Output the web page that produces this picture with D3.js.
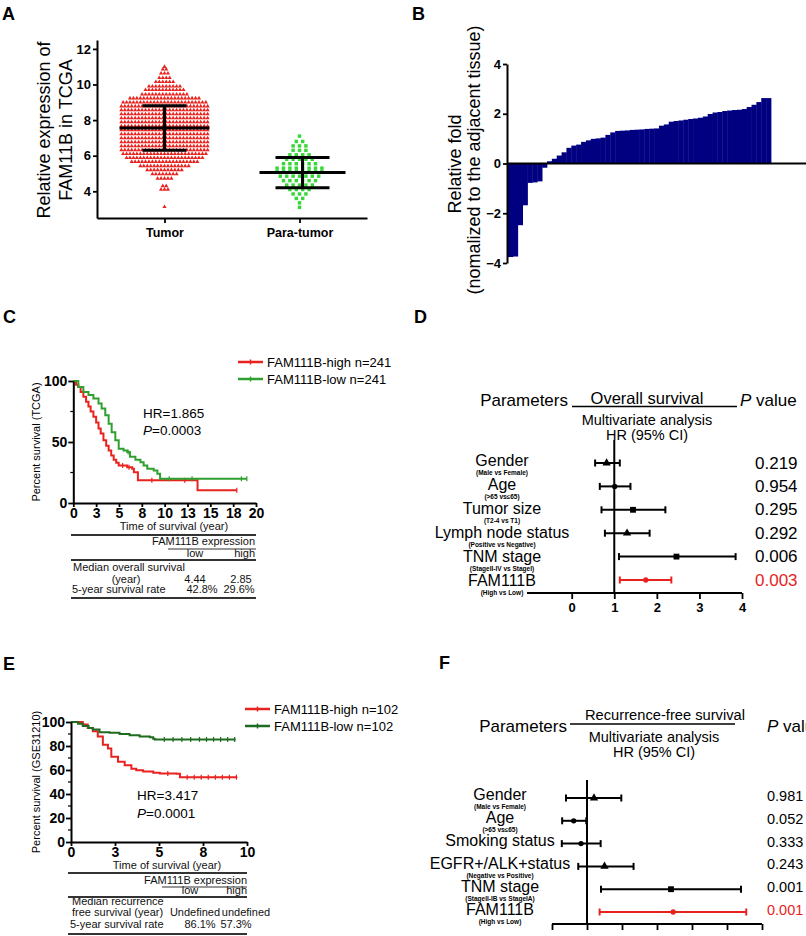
<!DOCTYPE html>
<html><head><meta charset="utf-8">
<script src="https://cdn.jsdelivr.net/npm/d3@7"></script>
<style>
html,body{margin:0;padding:0;background:#fff;}
svg{display:block;font-family:"Liberation Sans",Arial,sans-serif;}
</style></head>
<body>
<svg id="fig" width="806" height="936"></svg>
<script>
// ---------------- DATA ----------------
// Panel A: beeswarm rows [value, count]
const tumorRows = [[3.13,1],[4.1,3],[4.3,2],[4.72,5],[4.97,8],[5.2,11],[5.42,15],[5.66,20],[5.88,23],[6.1,25],[6.32,26],[6.54,26],[6.76,26],[6.99,26],[7.21,26],[7.44,26],[7.66,26],[7.89,26],[8.11,26],[8.34,26],[8.56,26],[8.78,26],[9.0,25],[9.23,21],[9.45,14],[9.7,12],[9.9,10],[10.15,6],[10.37,4],[10.63,3],[10.85,2],[11.0,1]];
const paraRows = [[7.1,1],[6.8,2],[6.55,3],[6.3,3],[6.05,4],[5.8,5],[5.55,6],[5.3,8],[5.1,8],[4.85,7],[4.6,6],[4.35,5],[4.1,4],[3.85,3],[3.6,2],[3.35,1],[3.1,1]];
const groupsA = ["Tumor","Para-tumor"];
const meanA = [7.55, 5.05];
const sdLowA = [6.3, 4.2];
const sdHighA = [8.8, 5.9];
const ticksA = [4,6,8,10,12];

// Panel B: sorted relative fold values
const foldB = [-3.76,-3.74,-2.48,-1.68,-0.78,-0.76,-0.72,-0.17,
 0.09,0.19,0.32,0.45,0.63,0.72,0.76,0.87,0.93,0.99,1.01,1.04,1.15,1.25,1.31,1.32,1.33,1.35,1.36,1.37,1.39,1.40,1.41,
 1.52,1.57,1.68,1.71,1.73,1.76,1.79,1.81,1.84,1.89,1.99,2.05,2.07,2.11,2.13,2.15,2.16,2.19,2.27,2.36,2.47,2.63,2.63];
const ticksB = [-4,-2,0,2,4];

// Panel C: Kaplan-Meier (TCGA) [years, percent]
const cHigh = [[0,100],[0.3,97],[0.55,95],[0.8,91],[1.1,87],[1.4,83],[1.66,79],[1.9,75],[2.2,70.6],[2.5,66],[2.76,61],[3.0,57],[3.3,51.4],[3.6,47],[3.87,43],[4.15,39],[4.42,35.4],[4.7,33],[4.97,30.8],[5.9,29.4],[6.45,28],[6.63,25.3],[7.07,18.6],[13.6,10.4],[17.9,10.4]];
const cLow = [[0,100],[0.55,95],[1.1,91],[1.66,88.5],[2.2,85.7],[2.76,81.6],[3.1,77.5],[3.5,72],[3.87,65],[4.2,58],[4.6,51.4],[4.97,44.5],[5.5,43],[5.9,41.8],[6.2,38],[6.8,35.4],[7.35,33.5],[7.7,30.8],[8.1,28],[8.8,26.6],[9.2,24],[9.5,19.8],[19.0,19.8]];
const cHighCensor = [5.4,6.1,8.6,12.2,17.9];
const cLowCensor = [6.0,10.5,13.0,18.4,19.0];
const cTicks = [0,2.5,5,7.5,10,12.5,15,17.5,20];
const cTickLabels = ["0","3","5","8","10","13","15","18","20"];
const cYTicks = [0,50,100];
const cLegend = ["FAM111B-high n=241","FAM111B-low n=241"];
const cStats = ["HR=1.865","=0.0003"];
const cTable = {median:["4.44","2.85"], rate:["42.8%","29.6%"]};

// Panel E: Kaplan-Meier (GSE31210)
const eHigh = [[0,100],[0.67,98],[0.95,95],[1.24,92.3],[1.52,88],[1.81,81],[2.1,78],[2.29,71],[2.67,66.8],[3.05,64],[3.43,61],[3.71,59.7],[4.1,58.8],[4.67,57.7],[5.05,57.1],[6.0,56.8],[6.19,54],[9.45,54]];
const eLow = [[0,100],[0.4,98.5],[0.67,96.6],[1.0,95],[1.24,93.75],[1.62,91.5],[2.19,91],[2.76,90],[3.33,88.9],[3.9,88],[4.48,87.2],[4.67,86],[4.76,85.5],[9.35,85.5]];
const eHighCensor = [5.5,6.6,7.0,7.4,7.8,8.2,8.6,9.0,9.4];
const eLowCensor = [5.3,5.8,6.3,6.8,7.3,7.7,8.1,8.5,8.9,9.3];
const eTicks = [0,2.5,5,7.5,10];
const eTickLabels = ["0","3","5","8","10"];
const eYTicks = [0,20,40,60,80,100];
const eLegend = ["FAM111B-high n=102","FAM111B-low n=102"];
const eStats = ["HR=3.417","=0.0001"];
const eTable = {median:["Undefined","undefined"], rate:["86.1%","57.3%"]};

// Panel D: forest plot, overall survival
const dParams = ["Gender","Age","Tumor size","Lymph node status","TNM stage","FAM111B"];
const dSub = ["(Male vs Female)","(>65 vs\u226465)","(T2-4 vs T1)","(Positive vs Negative)","(StageII-IV vs StageI)","(High vs Low)"];
const dHR = [0.82,1.01,1.44,1.30,2.46,1.74];
const dLow = [0.55,0.66,0.70,0.78,1.11,1.13];
const dHigh = [1.13,1.38,2.20,1.83,3.85,2.34];
const dP = ["0.219","0.954","0.295","0.292","0.006","0.003"];
const dTicks = [0,1,2,3,4];

// Panel F: forest plot, recurrence-free survival
const fParams = ["Gender","Age","Smoking status","EGFR+/ALK+status","TNM stage","FAM111B"];
const fSub = ["(Male vs Female)","(>65 vs\u226465)","","(Negative vs Positive)","(StageII-IB vs StageIA)","(High vs Low)"];
const fHR = [1.2,0.62,0.83,1.5,3.4,3.46];
const fLow = [0.4,0.29,0.28,0.75,1.4,1.36];
const fHigh = [1.98,0.98,1.39,2.33,5.4,5.55];
const fP = ["0.981","0.052","0.333","0.243","0.001","0.001"];
const fTicks = [0,1,2,3,4,5,6];

// style-only arrays
const dSymbols = ["triangle","circle","square","triangle","square","circle"];
const fSymbols = ["triangle","circle","circle","triangle","square","circle"];

// ---------------- DRAW ----------------
const svg = d3.select("#fig");
const RED = "#e8231f", GREENL = "#39d639", GREENC = "#2fa02f", GREENE = "#1f6b1f", NAVY = "#000080";

function letter(t,x,y){ svg.append("text").attr("x",x).attr("y",y).attr("font-size",18).attr("font-weight","bold").text(t); }
letter("A",2,20); letter("B",412,20); letter("C",3,323); letter("D",414,323); letter("E",3,670); letter("F",439,669);

function styleAxis(g, fs, bold){
  g.selectAll("path.domain").attr("stroke","#000").attr("stroke-width",2);
  g.selectAll(".tick line").attr("stroke","#000").attr("stroke-width",1.8);
  g.selectAll(".tick text").attr("font-size",fs).attr("font-weight",bold?"bold":"normal").attr("fill","#000")
    .attr("font-family","Liberation Sans, Arial, sans-serif");
}

// ===== Panel A =====
{
  const y = d3.scaleLinear().domain([2.5,12.5]).range([218,40]);
  const x = d3.scalePoint().domain(groupsA).range([97,367]).padding(0.5);
  const gy = svg.append("g").attr("transform","translate(97,0)")
    .call(d3.axisLeft(y).tickValues(ticksA).tickSize(4).tickSizeOuter(0).tickPadding(2));
  styleAxis(gy,13,true);
  const gx = svg.append("g").attr("transform","translate(0,218)")
    .call(d3.axisBottom(x).tickSize(5).tickSizeOuter(0).tickPadding(5));
  styleAxis(gx,12.5,true);
  svg.append("text").attr("transform","translate(44,130) rotate(-90)").attr("text-anchor","middle")
    .attr("dominant-baseline","central").attr("font-size",18).text("Relative expression of");
  svg.append("text").attr("transform","translate(66,130) rotate(-90)").attr("text-anchor","middle")
    .attr("dominant-baseline","central").attr("font-size",18).text("FAM11B in TCGA");
  const tri = d3.symbol(d3.symbolTriangle, 7.5)();
  const sq = d3.symbol(d3.symbolSquare, 12)();
  const tpts = [];
  tumorRows.forEach(([v,n])=>{ for(let j=0;j<n;j++) tpts.push({v, o:(j-(n-1)/2)*3.45}); });
  svg.append("g").selectAll("path").data(tpts).join("path")
    .attr("d",tri).attr("fill",RED)
    .attr("transform",d=>`translate(${x("Tumor")+d.o},${y(d.v)})`);
  const ppts = [];
  paraRows.forEach(([v,n])=>{ for(let j=0;j<n;j++) ppts.push({v, o:(j-(n-1)/2)*6.4}); });
  svg.append("g").selectAll("path").data(ppts).join("path")
    .attr("d",sq).attr("fill",GREENL)
    .attr("transform",d=>`translate(${x("Para-tumor")+d.o},${y(d.v)})`);
  const halfMean = [45,43], halfCap = [22,27];
  groupsA.forEach((g,i)=>{
    const cx = x(g)+ (i===0?0:3);
    const e = svg.append("g").attr("stroke","#000").attr("stroke-width",3);
    e.append("line").attr("x1",cx-halfMean[i]).attr("x2",cx+halfMean[i]).attr("y1",y(meanA[i])).attr("y2",y(meanA[i]));
    e.append("line").attr("x1",cx).attr("x2",cx).attr("y1",y(sdLowA[i])).attr("y2",y(sdHighA[i]));
    [sdLowA[i],sdHighA[i]].forEach(v=>e.append("line").attr("x1",cx-halfCap[i]).attr("x2",cx+halfCap[i]).attr("y1",y(v)).attr("y2",y(v)));
  });
}

// ===== Panel B =====
{
  const y = d3.scaleLinear().domain([-4,4]).range([263,64]);
  const x = d3.scaleBand().domain(d3.range(foldB.length)).range([508,771]).padding(0);
  svg.append("g").selectAll("rect").data(foldB).join("rect")
    .attr("x",(d,i)=>x(i)).attr("width",x.bandwidth()+0.4)
    .attr("y",d=>Math.min(y(d),y(0))).attr("height",d=>Math.abs(y(d)-y(0)))
    .attr("fill",NAVY);
  const gy = svg.append("g").attr("transform","translate(507,0)")
    .call(d3.axisLeft(y).tickValues(ticksB).tickSize(4).tickSizeOuter(0).tickPadding(2).tickFormat(d3.format("d")));
  styleAxis(gy,13,true);
  svg.append("line").attr("x1",507).attr("x2",806).attr("y1",y(0)).attr("y2",y(0)).attr("stroke","#000").attr("stroke-width",2);
  svg.append("text").attr("transform","translate(455,164) rotate(-90)").attr("text-anchor","middle")
    .attr("dominant-baseline","central").attr("font-size",18).text("Relative fold");
  svg.append("text").attr("transform","translate(474,160) rotate(-90)").attr("text-anchor","middle")
    .attr("dominant-baseline","central").attr("font-size",18).text("(nomalized to the adjacent tissue)");
}

// ===== KM helper =====
function survAt(data,t){ let s=data[0][1]; for(const p of data){ if(p[0]<=t) s=p[1]; } return s; }
function km(opt){
  const x = d3.scaleLinear().domain(opt.xd).range(opt.xr);
  const y = d3.scaleLinear().domain([0,100]).range(opt.yr);
  const line = d3.line().curve(d3.curveStepAfter).x(d=>x(d[0])).y(d=>y(d[1]));
  opt.series.forEach(s=>{
    svg.append("path").attr("d",line(s.data)).attr("fill","none").attr("stroke",s.color).attr("stroke-width",2);
    svg.append("g").selectAll("line").data(s.censor).join("line")
      .attr("x1",d=>x(d)).attr("x2",d=>x(d)).attr("y1",d=>y(survAt(s.data,d))-2.5).attr("y2",d=>y(survAt(s.data,d))+2.5)
      .attr("stroke",s.color).attr("stroke-width",1.2);
  });
  const gy = svg.append("g").attr("transform",`translate(${opt.xr[0]},0)`)
    .call(d3.axisLeft(y).tickValues(opt.yTicks).tickSize(5).tickSizeOuter(0).tickPadding(1));
  styleAxis(gy,14,true);
  const minor = svg.append("g").attr("stroke","#000").attr("stroke-width",1.2);
  opt.yMinor.forEach(v=>minor.append("line").attr("x1",opt.xr[0]-3).attr("x2",opt.xr[0]).attr("y1",y(v)).attr("y2",y(v)));
  const gx = svg.append("g").attr("transform",`translate(0,${opt.yr[0]})`)
    .call(d3.axisBottom(x).tickValues(opt.xTicks).tickFormat((d,i)=>opt.xLabels[i]).tickSize(4).tickSizeOuter(0).tickPadding(1));
  styleAxis(gx,14,true);
  svg.append("text").attr("transform",`translate(${opt.yTitleX},${(opt.yr[0]+opt.yr[1])/2}) rotate(-90)`)
    .attr("text-anchor","middle").attr("dominant-baseline","central").attr("font-size",11).text(opt.yTitle);
  // legend
  opt.series.forEach((s,i)=>{
    const ly = opt.legY[i];
    svg.append("line").attr("x1",opt.legX).attr("x2",opt.legX+25).attr("y1",ly).attr("y2",ly).attr("stroke",s.color).attr("stroke-width",2.5);
    svg.append("line").attr("x1",opt.legX+12.5).attr("x2",opt.legX+12.5).attr("y1",ly-2.5).attr("y2",ly+2.5).attr("stroke",s.color).attr("stroke-width",1.5);
    svg.append("text").attr("x",opt.legX+29).attr("y",ly+4.5).attr("font-size",13).text(opt.legend[i]);
  });
  // stats
  svg.append("text").attr("x",opt.statX).attr("y",opt.statY[0]).attr("font-size",13.5).text(opt.stats[0]);
  const t2 = svg.append("text").attr("x",opt.statX).attr("y",opt.statY[1]).attr("font-size",13.5);
  t2.append("tspan").attr("font-style","italic").text("P");
  t2.append("tspan").text(opt.stats[1]);
  return {x,y};
}

// ===== Panel C =====
{
  km({xd:[0,20], xr:[73.3,256], yr:[503,381], series:[{data:cHigh,color:RED,censor:cHighCensor},{data:cLow,color:GREENC,censor:cLowCensor}],
      yTicks:cYTicks, yMinor:[25,75], xTicks:cTicks, xLabels:cTickLabels, yTitle:"Percent survival (TCGA)", yTitleX:36,
      legX:238, legY:[362,379], legend:cLegend, stats:cStats, statX:143, statY:[418,435]});
  const T = svg.append("g").attr("font-size",11).attr("fill","#111");
  T.append("text").attr("x",174).attr("y",530).attr("text-anchor","middle").text("Time of survival (year)");
  const L = svg.append("g").attr("stroke","#333");
  L.append("line").attr("x1",71).attr("x2",256).attr("y1",535).attr("y2",535).attr("stroke-width",2);
  T.append("text").attr("x",255).attr("y",545).attr("text-anchor","end").text("FAM111B expression");
  L.append("line").attr("x1",168).attr("x2",256).attr("y1",549).attr("y2",549).attr("stroke-width",1.2);
  T.append("text").attr("x",195).attr("y",557).attr("text-anchor","middle").text("low");
  T.append("text").attr("x",255).attr("y",557).attr("text-anchor","end").text("high");
  L.append("line").attr("x1",71).attr("x2",256).attr("y1",560).attr("y2",560).attr("stroke-width",2);
  T.append("text").attr("x",73).attr("y",571).text("Median overall survival");
  T.append("text").attr("x",126).attr("y",583).attr("text-anchor","middle").text("(year)");
  T.append("text").attr("x",195).attr("y",583).attr("text-anchor","middle").text(cTable.median[0]);
  T.append("text").attr("x",241).attr("y",583).attr("text-anchor","middle").text(cTable.median[1]);
  T.append("text").attr("x",72).attr("y",593).text("5-year survival rate");
  T.append("text").attr("x",202).attr("y",593).attr("text-anchor","middle").text(cTable.rate[0]);
  T.append("text").attr("x",239).attr("y",593).attr("text-anchor","middle").text(cTable.rate[1]);
  L.append("line").attr("x1",71).attr("x2",256).attr("y1",598).attr("y2",598).attr("stroke-width",2);
}

// ===== Panel E =====
{
  km({xd:[0,10], xr:[71,247], yr:[842,722], series:[{data:eHigh,color:RED,censor:eHighCensor},{data:eLow,color:GREENE,censor:eLowCensor}],
      yTicks:eYTicks, yMinor:[10,30,50,70,90], xTicks:eTicks, xLabels:eTickLabels, yTitle:"Percent survival (GSE31210)", yTitleX:36,
      legX:245, legY:[709,726], legend:eLegend, stats:eStats, statX:137, statY:[800,818]});
  const T = svg.append("g").attr("font-size",11).attr("fill","#111");
  T.append("text").attr("x",167).attr("y",869).attr("text-anchor","middle").text("Time of survival (year)");
  const L = svg.append("g").attr("stroke","#333");
  L.append("line").attr("x1",68).attr("x2",247).attr("y1",873).attr("y2",873).attr("stroke-width",2);
  T.append("text").attr("x",247).attr("y",884).attr("text-anchor","end").text("FAM111B expression");
  L.append("line").attr("x1",162).attr("x2",247).attr("y1",887).attr("y2",887).attr("stroke-width",1.2);
  T.append("text").attr("x",190).attr("y",894).attr("text-anchor","middle").text("low");
  T.append("text").attr("x",247).attr("y",894).attr("text-anchor","end").text("high");
  L.append("line").attr("x1",68).attr("x2",247).attr("y1",897).attr("y2",897).attr("stroke-width",2);
  T.append("text").attr("x",72).attr("y",905).text("Median recurrence");
  T.append("text").attr("x",72).attr("y",916).text("free survival (year)");
  T.append("text").attr("x",195).attr("y",916).attr("text-anchor","middle").text(eTable.median[0]);
  T.append("text").attr("x",246).attr("y",916).attr("text-anchor","middle").text(eTable.median[1]);
  T.append("text").attr("x",70).attr("y",928).text("5-year survival rate");
  T.append("text").attr("x",200).attr("y",928).attr("text-anchor","middle").text(eTable.rate[0]);
  T.append("text").attr("x",236).attr("y",928).attr("text-anchor","middle").text(eTable.rate[1]);
  L.append("line").attr("x1",68).attr("x2",247).attr("y1",934).attr("y2",934).attr("stroke-width",2);
}

// ===== Forest helper =====
function symbolPath(name){
  if(name==="triangle") return d3.symbol(d3.symbolTriangle,30)();
  if(name==="square") return d3.symbol(d3.symbolSquare,34)();
  return d3.symbol(d3.symbolCircle,22)();
}
function forest(o){
  const x = d3.scaleLinear().domain(o.xd).range(o.xr);
  const yb = d3.scalePoint().domain(d3.range(o.params.length)).range(o.barY);
  const yl = d3.scalePoint().domain(d3.range(o.params.length)).range(o.labY);
  // header
  svg.append("text").attr("x",o.parX).attr("y",o.headY).attr("text-anchor","end").attr("font-size",17).text("Parameters");
  svg.append("text").attr("x",o.titleX).attr("y",o.titleY).attr("text-anchor","middle").attr("font-size",o.titleFs).text(o.title);
  svg.append("line").attr("x1",o.ruleX[0]).attr("x2",o.ruleX[1]).attr("y1",o.ruleY).attr("y2",o.ruleY).attr("stroke","#000").attr("stroke-width",1.5);
  svg.append("text").attr("x",o.subTitleX).attr("y",o.ruleY+18).attr("text-anchor","middle").attr("font-size",14.5).text("Multivariate analysis");
  svg.append("text").attr("x",o.subTitleX).attr("y",o.ruleY+33).attr("text-anchor","middle").attr("font-size",14.5).text("HR (95% CI)");
  const pv = svg.append("text").attr("x",o.pX).attr("y",o.headY).attr("font-size",17);
  pv.append("tspan").attr("font-style","italic").text("P");
  pv.append("tspan").text(" value");
  // reference line
  svg.append("line").attr("x1",x(1)).attr("x2",x(1)).attr("y1",o.refTop).attr("y2",o.axisY).attr("stroke","#000").attr("stroke-width",2);
  // axis
  const g = svg.append("g").attr("transform",`translate(0,${o.axisY})`)
    .call(d3.axisBottom(x).tickValues(o.ticks).tickSize(6).tickSizeOuter(0).tickPadding(4).tickFormat(o.showLabels?d3.format("d"):""));
  g.select("path.domain").remove();
  styleAxis(g,13,true);
  g.append("line").attr("x1",o.axisX0).attr("x2",o.xr[1]).attr("y1",0).attr("y2",0).attr("stroke","#000").attr("stroke-width",2);
  o.params.forEach((p,i)=>{
    const col = i===o.params.length-1 ? RED : "#000";
    const yy = yb(i);
    const gg = svg.append("g").attr("stroke",col).attr("stroke-width",2);
    gg.append("line").attr("x1",x(o.lo[i])).attr("x2",x(o.hi[i])).attr("y1",yy).attr("y2",yy);
    [o.lo[i],o.hi[i]].forEach(v=>gg.append("line").attr("x1",x(v)).attr("x2",x(v)).attr("y1",yy-3.5).attr("y2",yy+3.5));
    svg.append("path").attr("d",symbolPath(o.symbols[i])).attr("fill",col).attr("transform",`translate(${x(o.hr[i])},${yy})`);
    svg.append("text").attr("x",o.labX).attr("y",yl(i)).attr("text-anchor","middle").attr("font-size",16).text(p);
    if(o.sub[i]) svg.append("text").attr("x",o.labX).attr("y",yl(i)+o.subDy).attr("text-anchor","middle").attr("font-size",6.5).attr("font-weight","bold").text(o.sub[i]);
    svg.append("text").attr("x",o.pvX).attr("y",yy+o.pvDy).attr("dominant-baseline","central").attr("font-size",o.pvFs).attr("fill",col).text(o.pvals[i]);
  });
}

// ===== Panel D =====
forest({params:dParams, sub:dSub, hr:dHR, lo:dLow, hi:dHigh, pvals:dP, symbols:dSymbols,
  xd:[0,4], xr:[571.7,742], axisX0:527, axisY:593, ticks:dTicks, showLabels:true,
  barY:[463,580], labY:[466,586], subDy:8.5, labX:502, pvX:755, pvDy:0, pvFs:17,
  parX:568, headY:406, title:"Overall survival", titleX:647, titleY:404, titleFs:16.5, ruleX:[572,737], ruleY:406.5, subTitleX:647,
  pX:740, refTop:440});

// ===== Panel F =====
forest({params:fParams, sub:fSub, hr:fHR, lo:fLow, hi:fHigh, pvals:fP, symbols:fSymbols,
  xd:[0,6], xr:[552,762], axisX0:552, axisY:924, ticks:fTicks, showLabels:false,
  barY:[798,912], labY:[800,915], subDy:8.5, labX:500, pvX:767, pvDy:-2, pvFs:14.5,
  parX:567, headY:732, title:"Recurrence-free survival", titleX:665, titleY:720, titleFs:14.7, ruleX:[570,735], ruleY:724, subTitleX:654,
  pX:767, refTop:780});
</script>
</body></html>
